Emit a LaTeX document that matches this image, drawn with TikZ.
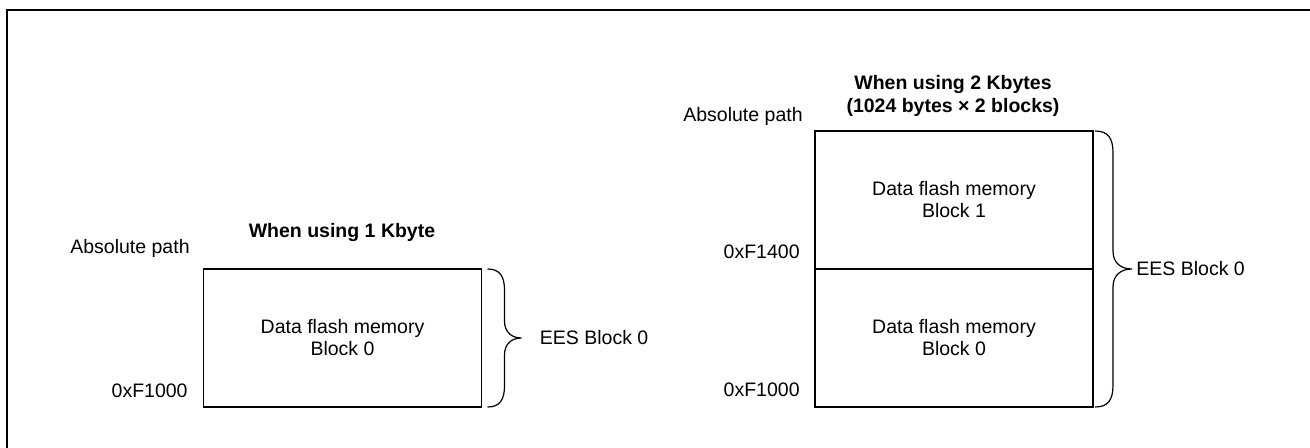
\documentclass[tikz,border=0pt]{standalone}
\usepackage{fontspec}
\setmainfont{Liberation Sans}
\usetikzlibrary{calc, positioning}

\begin{document}
\begin{tikzpicture}[x=0.5pt, y=-0.5pt,
    mem/.style={draw, line width=0.6pt, rectangle, minimum width=139pt, minimum height=69pt,
        inner sep=0pt, outer sep=0pt, align=center, font=\fontsize{9.75}{11}\selectfont},
    lbl/.style={inner sep=0pt, font=\fontsize{9.75}{11}\selectfont},
    ttl/.style={inner sep=0pt, align=center, font=\bfseries\fontsize{9.75}{11.5}\selectfont},
    brc/.style={line width=0.6pt}]

        \useasboundingbox (0,0) rectangle (1310,448);

        % Draw the frame
        \draw[line width=1pt] (7,448) -- (7,10) -- (1310,10);

        % Draw the 1 Kbyte case
        \node[mem] (blk) at (342.5,338) {Data flash memory\\Block 0};
        \node[ttl] (ttl1) at (342,233) {When using 1 Kbyte};
        \node[lbl] (abs1) at (130,248) {Absolute path};
        \node[lbl, anchor=east] (adr1) at (188,391) {0xF1000};

        % Brace for the EES block
        \coordinate (bt1) at ([xshift=3pt]blk.north east);
        \coordinate (bb1) at ([xshift=3pt]blk.south east);
        \coordinate (tip1) at ($(bt1)!0.5!(bb1)+(34,0)$);
        \draw[brc] (bt1) .. controls +(12,0) and +(0,-14) .. ($(bt1)+(17,21)$)
            -- ($(tip1)+(-17,-17)$) .. controls +(0,11) and +(-10,0) .. (tip1)
            .. controls +(-10,0) and +(0,-11) .. ($(tip1)+(-17,17)$)
            -- ($(bb1)+(17,-21)$) .. controls +(0,14) and +(12,0) .. (bb1);
        \node[lbl, right=9pt of tip1] (ees1) {EES Block 0};

        % Draw the 2 Kbytes case
        \node[mem] (blkb) at (954,200) {Data flash memory\\Block 1};
        \node[mem, below=0pt of blkb] (blka) {Data flash memory\\Block 0};
        \node[ttl] (ttl2) at (953,96) {When using 2 Kbytes\\(1024 bytes × 2 blocks)};
        \node[lbl] (abs2) at (743,116) {Absolute path};
        \node[lbl, anchor=east] (adr2) at (800,252) {0xF1400};
        \node[lbl, anchor=east] (adr3) at (800,390) {0xF1000};

        % Brace for the EES block
        \coordinate (bt2) at ([xshift=1pt]blkb.north east);
        \coordinate (bb2) at ([xshift=1pt]blka.south east);
        \coordinate (tip2) at ($(bt2)!0.5!(bb2)+(37,0)$);
        \draw[brc] (bt2) .. controls +(13,0) and +(0,-15) .. ($(bt2)+(18,22)$)
            -- ($(tip2)+(-19,-18)$) .. controls +(0,12) and +(-11,0) .. (tip2)
            .. controls +(-11,0) and +(0,-12) .. ($(tip2)+(-19,18)$)
            -- ($(bb2)+(18,-22)$) .. controls +(0,15) and +(13,0) .. (bb2);
        \node[lbl, right=2pt of tip2] (ees2) {EES Block 0};
    \end{tikzpicture}
\end{document}
